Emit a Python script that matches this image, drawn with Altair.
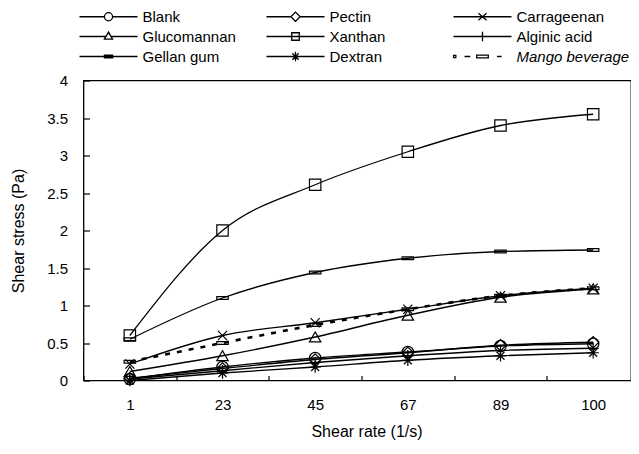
import altair as alt
import pandas as pd

shear_rate = ["1", "23", "45", "67", "89", "100"]
series = ["Blank", "Pectin", "Carrageenan", "Glucomannan", "Xanthan",
          "Alginic acid", "Gellan gum", "Dextran", "Mango beverage"]

blank = [0.02, 0.18, 0.30, 0.38, 0.46, 0.49]
pectin = [0.03, 0.16, 0.28, 0.37, 0.47, 0.51]
carrageenan = [0.22, 0.60, 0.77, 0.95, 1.13, 1.23]
glucomannan = [0.12, 0.33, 0.58, 0.87, 1.11, 1.22]
xanthan = [0.60, 2.00, 2.61, 3.05, 3.40, 3.55]
alginic = [0.02, 0.13, 0.24, 0.33, 0.40, 0.43]
gellan = [0.55, 1.10, 1.44, 1.63, 1.72, 1.74]
dextran = [0.00, 0.10, 0.18, 0.27, 0.33, 0.37]
mango = [0.25, 0.50, 0.74, 0.95, 1.13, 1.23]

values = [blank, pectin, carrageenan, glucomannan, xanthan,
          alginic, gellan, dextran, mango]

rows = []
for name, vals in zip(series, values):
    for x, v in zip(shear_rate, vals):
        rows.append({"rate": x, "stress": v, "series": name})
df = pd.DataFrame(rows)

solid = [s for s in series if s != "Mango beverage"]

# legend is filled column by column: this order gives the row-wise layout
legend_order = ["Blank", "Glucomannan", "Gellan gum",
                "Pectin", "Xanthan", "Dextran",
                "Carrageenan", "Alginic acid", "Mango beverage"]

# marker glyphs on the plot
X_PATH = "M-0.8,-0.8L0.8,0.8M-0.8,0.8L0.8,-0.8"
PLUS_PATH = "M-1,0L1,0M0,-1L0,1"
BAR_PATH = "M-1,-0.25L1,-0.25L1,0.25L-1,0.25Z"
AST_PATH = "M-1,0L1,0M0,-1L0,1M-0.7,-0.7L0.7,0.7M-0.7,0.7L0.7,-0.7"
marker_shapes = ["circle", "diamond", X_PATH, "triangle-up", "square",
                 PLUS_PATH, BAR_PATH, AST_PATH, BAR_PATH]

# legend glyphs: line segment + marker (unit = 29px)
leg_glyph = {
    "Blank": "M-1,0L-0.14,0M0.14,0L1,0M-0.14,0A0.14,0.14 0 1,0 0.14,0A0.14,0.14 0 1,0 -0.14,0",
    "Pectin": "M-1,0L-0.16,0M0.16,0L1,0M-0.16,0L0,-0.16L0.16,0L0,0.16Z",
    "Carrageenan": "M-1,0L1,0M-0.14,-0.12L0.14,0.12M-0.14,0.12L0.14,-0.12",
    "Glucomannan": "M-1,0L-0.08,0M0.08,0L1,0M-0.14,0.09L0,-0.15L0.14,0.09Z",
    "Xanthan": "M-1,0L1,0M-0.13,-0.13L0.13,-0.13L0.13,0.13L-0.13,0.13Z",
    "Alginic acid": "M-1,0L1,0M0,-0.16L0,0.16",
    "Gellan gum": "M-1,0L1,0M-0.14,-0.05L0.14,-0.05L0.14,0.05L-0.14,0.05Z",
    "Dextran": "M-1,0L1,0M-0.15,0L0.15,0M0,-0.16L0,0.16M-0.11,-0.11L0.11,0.11M-0.11,0.11L0.11,-0.11",
    "Mango beverage": "M-1,-0.04L-0.92,-0.04L-0.92,0.04L-1,0.04ZM-0.62,0L-0.42,0M-0.2,-0.05L0.2,-0.05L0.2,0.05L-0.2,0.05ZM0.5,0L0.66,0",
}
leg_shapes = [leg_glyph[s] for s in legend_order]

FONT = "Liberation Sans"

x_enc = alt.X("rate:N", sort=shear_rate,
              scale=alt.Scale(type="band", paddingInner=0, paddingOuter=0,
                              range=[0, 556]),
              axis=alt.Axis(title="Shear rate (1/s)", labelAngle=0, domain=False,
                            tickBand="extent", tickSize=5, offset=-5,
                            labelPadding=17, titlePadding=11, titleX=283,
                            tickColor="black", tickWidth=1.2,
                            labelFont=FONT, titleFont=FONT, labelFontSize=15,
                            titleFontSize=16, labelColor="black", titleColor="black",
                            titleFontWeight="normal"))
y_enc = alt.Y("stress:Q", scale=alt.Scale(domain=[0, 4], nice=False),
              axis=alt.Axis(title="Shear stress (Pa)", values=[0, 0.5, 1, 1.5, 2, 2.5, 3, 3.5, 4],
                            format="~g",
                            domain=False, grid=False, tickSize=6, offset=-6,
                            labelPadding=16, titlePadding=20,
                            tickColor="black", tickWidth=1.2,
                            labelFont=FONT, titleFont=FONT, labelFontSize=15,
                            titleFontSize=16, labelColor="black", titleColor="black",
                            titleFontWeight="normal"))

base = alt.Chart(df)

lines = base.transform_filter(
    alt.FieldOneOfPredicate(field="series", oneOf=solid)
).mark_line(interpolate="monotone", color="black", strokeWidth=1.3).encode(
    x=x_enc, y=y_enc, detail="series:N"
)

mango_line = base.transform_filter(
    alt.datum.series == "Mango beverage"
).mark_line(interpolate="monotone", color="black", strokeWidth=2.6,
            strokeDash=[5, 7]).encode(x=x_enc, y=y_enc)

points = base.mark_point(filled=False, color="black", strokeWidth=1.2, size=130,
                         opacity=1).encode(
    x=x_enc, y=y_enc,
    shape=alt.Shape("series:N", scale=alt.Scale(domain=series, range=marker_shapes),
                    legend=None),
)

legend_layer = base.transform_filter("false").mark_point(
    filled=False, color="black", opacity=1
).encode(
    x=x_enc, y=y_enc,
    shape=alt.Shape("series:N", scale=alt.Scale(domain=legend_order, range=leg_shapes),
                    sort=legend_order,
                    legend=alt.Legend(
                        title=None, orient="none", legendX=-5, legendY=-71.5,
                        columns=3, gridAlign="all", columnPadding=10, rowPadding=4,
                        symbolSize=3364, clipHeight=15, symbolStrokeWidth=1.3,
                        symbolStrokeColor="black", symbolFillColor="transparent",
                        labelOffset=4, labelFont=FONT, labelFontSize=15,
                        labelColor="black", padding=0, labelLimit=300,
                        labelFontStyle={"expr": "datum.label === 'Mango beverage' ? 'italic' : 'normal'"},
                    )),
)

chart = alt.layer(lines, mango_line, points, legend_layer).resolve_scale(
    shape="independent"
).properties(
    width=547.5, height=300,
    background="white",
    autosize=alt.AutoSizeParams(type="none"),
    padding={"left": 75.5, "top": 72.5, "right": 0, "bottom": 63},
).configure_view(
    stroke="black", strokeWidth=1.3
)

chart.save("out.html", embed_options={"renderer": "svg", "actions": False})
